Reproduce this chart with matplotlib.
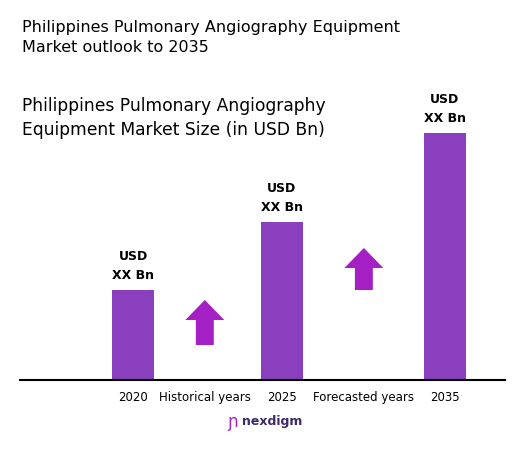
import matplotlib.pyplot as plt
from matplotlib.patches import FancyArrow

years = ["2020", "2025", "2035"]
bar_pos = [0, 1.91, 4]
sizes = [90, 158, 247]
bar_labels = ["USD\nXX Bn", "USD\nXX Bn", "USD\nXX Bn"]
period_labels = ["Historical years", "Forecasted years"]
arrow_pos = [0.92, 2.96]
arrow_base = [35, 90]
arrow_len = [45, 42]

W, H = 524, 451
fig = plt.figure(figsize=(W / 100, H / 100), dpi=100)
ax = fig.add_axes([20 / W, 1 - 380 / H, 485 / W, 320 / H])
ax.set_xlim(-1.45, 4.77)
ax.set_ylim(0, 320)

ax.bar(bar_pos, sizes, width=0.54, color="#8A3FBF")
for x, v, lab in zip(bar_pos, sizes, bar_labels):
    ax.text(x, v + 8, lab, ha="center", va="bottom", fontsize=9,
            fontweight="bold", linespacing=1.6)

for x, b, l in zip(arrow_pos, arrow_base, arrow_len):
    ax.add_patch(FancyArrow(x, b, 0, l, width=0.23, head_width=0.5,
                            head_length=20, length_includes_head=True,
                            color="#A41FC4", lw=0))

ax.set_xticks(bar_pos + arrow_pos)
ax.set_xticklabels(years + period_labels, fontsize=8.5)
ax.tick_params(axis="x", length=0, pad=8)
ax.set_yticks([])
for s in ["top", "right", "left"]:
    ax.spines[s].set_visible(False)
ax.spines["bottom"].set_linewidth(1.5)

fig.text(22 / W, 1 - 20 / H, "Philippines Pulmonary Angiography Equipment\nMarket outlook to 2035",
         ha="left", va="top", fontsize=11.5, linespacing=1.4)
fig.text(22 / W, 1 - 97 / H, "Philippines Pulmonary Angiography\nEquipment Market Size (in USD Bn)",
         ha="left", va="top", fontsize=12.3, linespacing=1.45)
fig.text(238 / W, 1 - 422 / H, "ɲ", ha="right", va="center", fontsize=12, color="#A41FC4")
fig.text(242 / W, 1 - 422 / H, "nexdigm", ha="left", va="center", fontsize=9,
         fontweight="bold", color="#3D2A6B")

fig.savefig("out.png", dpi=100)
